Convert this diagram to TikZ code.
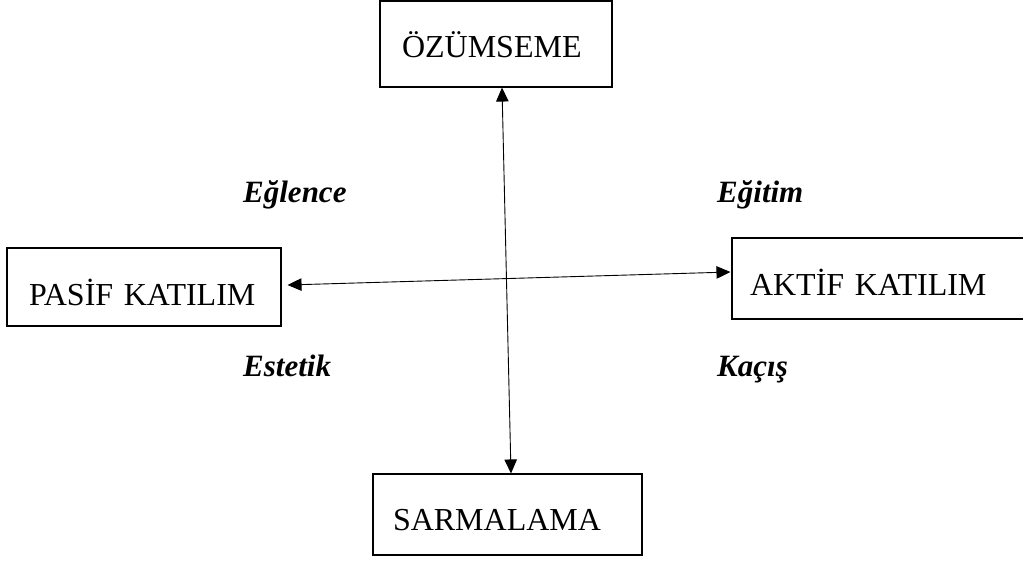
\documentclass[tikz,border=0pt]{standalone}
\usepackage{fontspec}
\setmainfont{Liberation Serif}
\usetikzlibrary{arrows.meta}

\begin{document}
\begin{tikzpicture}[
  x=1pt, y=-1pt,
  box/.style={draw, line width=1.1pt, inner ysep=0pt, align=left, font=\fontsize{32}{38}\selectfont},
  lbl/.style={inner sep=0pt, anchor=base west, font=\fontsize{31}{36}\selectfont\bfseries\itshape},
  arrow/.style={{Triangle[length=14pt,width=12.5pt]}-{Triangle[length=14pt,width=12.5pt]}, line width=0.9pt}
]
\useasboundingbox (0,0) rectangle (1023,562);
% boxes
\node[box, inner xsep=22pt, text width=188pt, text height=56pt, text depth=30pt] (oz) at (496,44) {ÖZÜMSEME};
\node[box, inner xsep=22pt, text width=230pt, text height=57pt, text depth=21pt] (pas) at (144,287) {PASİF KATILIM};
\node[box, inner xsep=18pt, text width=272pt, text height=57pt, text depth=24pt] (akt) at (886,278.5) {AKTİF KATILIM};
\node[box, inner xsep=20pt, text width=229pt, text height=56pt, text depth=25pt] (sar) at (507.5,514.5) {SARMALAMA};
% labels
\node[lbl] (egl) at (243,202) {Eğlence};
\node[lbl] (egi) at (717,202) {Eğitim};
\node[lbl] (est) at (243,376) {Estetik};
\node[lbl] (kac) at (717,376) {Kaçış};
% arrows
\draw[arrow] ([xshift=6pt]oz.south) -- ([xshift=3.5pt]sar.north);
\draw[arrow] ([xshift=6pt,yshift=2pt]pas.east) -- ([xshift=-1pt,yshift=6.5pt]akt.west);
\end{tikzpicture}
\end{document}
